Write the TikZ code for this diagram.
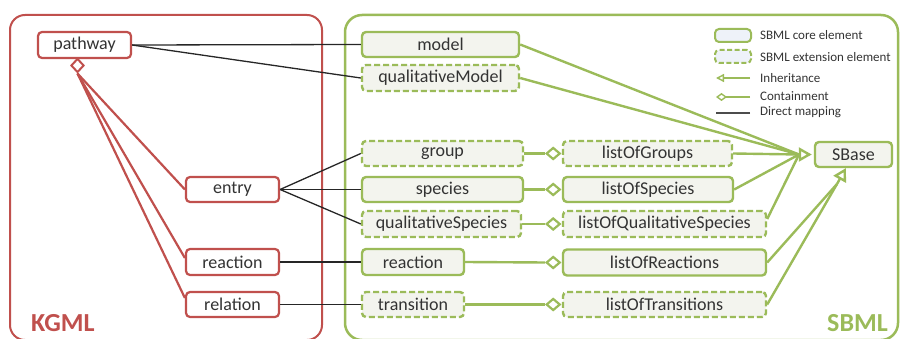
\documentclass[tikz,border=0pt]{standalone}
\usepackage{fontspec}
\setmainfont{Carlito}
\usetikzlibrary{arrows.meta,shapes.geometric,calc}
\definecolor{kred}{HTML}{C0504D}
\definecolor{sgreen}{HTML}{9BBB59}
\definecolor{boxfill}{HTML}{F3F4EE}
\definecolor{legfill}{HTML}{EEF2F9}
\definecolor{txt}{HTML}{333333}
\begin{document}
\begin{tikzpicture}[x=1pt,y=-1pt,
  box/.style={rectangle, rounded corners=4pt, inner sep=0pt, font=\fontsize{18}{20}\selectfont, text=txt},
  kbox/.style={box, draw=kred, line width=2.2pt, fill=white},
  core/.style={box, draw=sgreen, line width=2.4pt, fill=boxfill},
  ext/.style={core, dash pattern=on 6pt off 3pt},
  map/.style={draw=black!85, line width=1.3pt},
  gdia/.style={diamond, draw=sgreen, line width=2.2pt, fill=white, inner sep=0pt, minimum width=14pt, minimum height=12pt},
  cline/.style={draw=sgreen, line width=2.4pt},
  inhline/.style={draw=sgreen, line width=2.4pt},
  inharrow/.style={draw=sgreen, line width=2.4pt, -{Triangle[open,length=13pt,width=14pt]}},
  kcontain/.style={draw=kred, line width=2.2pt},
  legtext/.style={anchor=west, inner sep=0pt, font=\fontsize{13}{15}\selectfont, text=txt},
  title/.style={inner sep=0pt, font=\fontsize{26}{30}\selectfont\bfseries}
]
\useasboundingbox (0,0) rectangle (900,339);
% frames
\draw[kred, line width=2pt, rounded corners=15pt] (10,15) rectangle (322,340);
\draw[sgreen, line width=2.5pt, rounded corners=17pt] (345,15) rectangle (898,340);
\node[title, text=kred, anchor=base west] (kgml) at (31,331) {KGML};
\node[title, text=sgreen, anchor=base east] (sbml) at (888,331) {SBML};

% KGML nodes
\node[kbox, minimum width=93pt, minimum height=26pt] (pathway) at (84.5,45) {pathway};
\node[kbox, minimum width=93pt, minimum height=25pt] (entry) at (232.5,189.5) {entry};
\node[kbox, minimum width=93pt, minimum height=26pt] (reactionK) at (232.5,262) {reaction};
\node[kbox, minimum width=93pt, minimum height=25pt] (relation) at (232.5,304.5) {relation};
\node[diamond, draw=kred, line width=2pt, fill=white, inner sep=0pt, minimum width=13pt, minimum height=14pt] (pdia) at (77.5,65.5) {};
\draw[kcontain] (pdia.south) -- (entry.west);
\draw[kcontain] (pdia.south) -- ([yshift=4pt]reactionK.west);
\draw[kcontain] (pdia.south) -- ([yshift=6.5pt]relation.west);

% SBML nodes
\node[core, minimum width=157pt, minimum height=25pt] (model) at (440.5,44.5) {model};
\node[ext, minimum width=157pt, minimum height=26pt] (qmodel) at (440.5,78) {qualitativeModel};
\node[ext, minimum width=161pt, minimum height=25pt] (group) at (442.5,153.5) {group};
\node[core, minimum width=161pt, minimum height=25pt] (species) at (442.5,189.5) {species};
\node[ext, minimum width=159pt, minimum height=26pt] (qspecies) at (441.5,224) {qualitativeSpecies};
\node[core, minimum width=102pt, minimum height=26pt] (reactionS) at (413,262) {reaction};
\node[ext, minimum width=102pt, minimum height=25pt] (transition) at (413,304.5) {transition};
\node[ext, minimum width=169pt, minimum height=25pt] (lgroups) at (647.5,153.5) {listOfGroups};
\node[core, minimum width=170pt, minimum height=25pt] (lspecies) at (648,189.5) {listOfSpecies};
\node[ext, minimum width=203pt, minimum height=26pt] (lqspecies) at (664.5,224) {listOfQualitativeSpecies};
\node[core, minimum width=203pt, minimum height=26pt] (lreactions) at (664.5,262.5) {listOfReactions};
\node[ext, minimum width=203pt, minimum height=25pt] (ltransitions) at (664.5,304.5) {listOfTransitions};
\node[core, minimum width=77pt, minimum height=25pt] (sbase) at (853.5,154.5) {SBase};

% direct mappings
\draw[map] (pathway.east) -- (model.west);
\draw[map] (pathway.east) -- (qmodel.west);
\draw[map] (entry.east) -- (group.west);
\draw[map] (entry.east) -- (species.west);
\draw[map] (entry.east) -- (qspecies.west);
\draw[map] (reactionK.east) -- (reactionS.west);
\draw[map] (relation.east) -- (transition.west);

% containment
\node[gdia, anchor=east] (dgroups) at ([xshift=-0.5pt]lgroups.west) {};
\node[gdia, anchor=east] (dspecies) at ([xshift=-0.5pt]lspecies.west) {};
\node[gdia, anchor=east] (dqspecies) at ([xshift=-0.5pt]lqspecies.west) {};
\node[gdia, anchor=east] (dreactions) at ([xshift=-0.5pt]lreactions.west) {};
\node[gdia, anchor=east] (dtransitions) at ([xshift=-0.5pt]ltransitions.west) {};
\draw[cline] (group.east) -- (dgroups.west);
\draw[cline] (species.east) -- (dspecies.west);
\draw[cline] (qspecies.east) -- (dqspecies.west);
\draw[cline] (reactionS.east) -- (dreactions.west);
\draw[cline] (transition.east) -- (dtransitions.west);

% inheritance
\coordinate (inhA) at (799,154.5);
\coordinate (inhB) at (837,184);
\coordinate (sbtip) at (846,168);
\draw[inhline] (model.east) -- (inhA);
\draw[inhline] (qmodel.east) -- (inhA);
\draw[inhline] (lgroups.east) -- (inhA);
\draw[inhline] (lspecies.east) -- (inhA);
\draw[inhline] ([yshift=5pt]lqspecies.east) -- (inhA);
\draw[inharrow, shorten >=2pt] (inhA) -- (sbase.west);
\draw[inhline] (lreactions.east) -- (inhB);
\draw[inhline] (ltransitions.east) -- (inhB);
\draw[inharrow] (inhB) -- (sbtip);

% legend
\node[core, fill=legfill, line width=2pt, minimum width=36pt, minimum height=13pt] (lcore) at (733,35.5) {};
\node[ext, fill=legfill, line width=2pt, dash pattern=on 5pt off 2.5pt, minimum width=36pt, minimum height=13pt] (lext) at (733,56.5) {};
\node[legtext] (tcore) at (760,35.5) {SBML core element};
\node[legtext] (text) at (760,57) {SBML extension element};
\node[legtext] (tinh) at (760,78) {Inheritance};
\node[legtext] (tcont) at (760,96) {Containment};
\node[legtext] (tmap) at (760,112) {Direct mapping};
\coordinate (li1) at (750,78);
\coordinate (li2) at (716,78);
\coordinate (lc1) at (750,97);
\coordinate (lc2) at (716,97);
\coordinate (lm1) at (750,113);
\coordinate (lm2) at (716,113);
\draw[sgreen, line width=1.4pt, -{Triangle[open,length=8pt,width=8pt]}] (li1) -- (li2);
\draw[sgreen, line width=1.4pt, -{Diamond[open,length=11pt,width=8pt]}] (lc1) -- (lc2);
\draw[black!70, line width=2pt] (lm1) -- (lm2);
\end{tikzpicture}
\end{document}
